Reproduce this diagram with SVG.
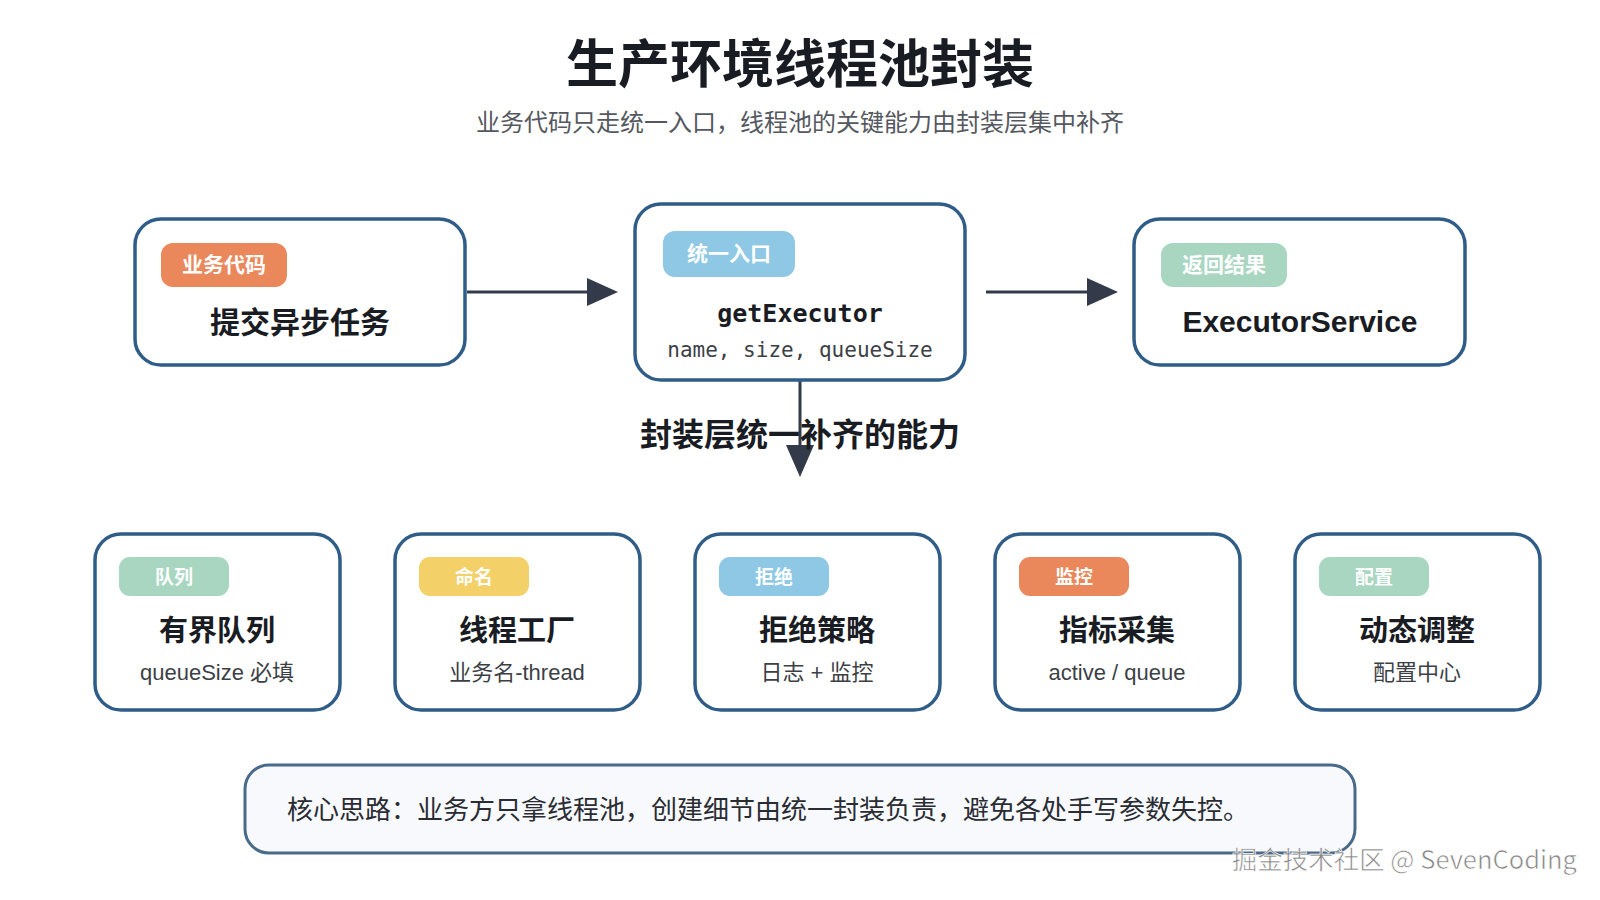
<svg xmlns="http://www.w3.org/2000/svg" width="1600" height="900" viewBox="0 0 1600 900">
<defs>
<style>
.box{fill:#ffffff;stroke:#2f5d87;stroke-width:3.5}
.cjk{font-family:"Noto Sans CJK SC","Liberation Sans",sans-serif}
.badge-t{font-family:"Noto Sans CJK SC",sans-serif;font-weight:700;fill:#ffffff;text-anchor:middle}
.main{font-family:"Noto Sans CJK SC","Liberation Sans",sans-serif;font-weight:700;fill:#1a1c24;text-anchor:middle}
.sub{font-family:"Liberation Sans","Noto Sans CJK SC",sans-serif;fill:#3d3f46;text-anchor:middle;font-size:22px}
.conn{stroke:#333b4a;stroke-width:3;fill:none}
</style>
</defs>
<rect width="1600" height="900" fill="#ffffff"/>

<text x="800" y="83" class="main" font-size="52">生产环境线程池封装</text>
<text x="800" y="131" class="cjk" font-size="24" fill="#555860" text-anchor="middle">业务代码只走统一入口，线程池的关键能力由封装层集中补齐</text>

<g id="connectors">
<line x1="467" y1="292" x2="587" y2="292" class="conn"/>
<path d="M587,278 L618,292 L587,306 Z" fill="#333b4a"/>
<line x1="986" y1="292" x2="1087" y2="292" class="conn"/>
<path d="M1087,278 L1118,292 L1087,306 Z" fill="#333b4a"/>
<line x1="800" y1="381" x2="800" y2="446" class="conn"/>
<path d="M786,445 L814,445 L800,477 Z" fill="#333b4a"/>
</g>

<g id="node-submit">
<rect x="135" y="219" width="330" height="146" rx="26" class="box"/>
<rect x="161" y="243" width="126" height="44" rx="12" fill="#ea875b"/>
<text x="224" y="272" class="badge-t" font-size="21">业务代码</text>
<text x="300" y="333" class="main" font-size="30">提交异步任务</text>
</g>

<g id="node-entry">
<rect x="635" y="204" width="330" height="176" rx="26" class="box"/>
<rect x="663" y="231" width="132" height="46" rx="12" fill="#8ec8e4"/>
<text x="729" y="261" class="badge-t" font-size="21">统一入口</text>
<text x="800" y="322" font-family="'DejaVu Sans Mono','Liberation Mono',monospace" font-weight="700" font-size="25" fill="#1a1c24" text-anchor="middle">getExecutor</text>
<text x="800" y="357" font-family="'DejaVu Sans Mono','Liberation Mono',monospace" font-size="21" fill="#3d3f46" text-anchor="middle">name, size, queueSize</text>
</g>

<g id="node-result">
<rect x="1134" y="219" width="331" height="146" rx="26" class="box"/>
<rect x="1161" y="243" width="126" height="44" rx="12" fill="#a8d6c1"/>
<text x="1224" y="272" class="badge-t" font-size="21">返回结果</text>
<text x="1300" y="332" font-family="'Liberation Sans',sans-serif" font-weight="700" font-size="30" fill="#1a1c24" text-anchor="middle">ExecutorService</text>
</g>

<text x="800" y="446" class="main" font-size="32">封装层统一补齐的能力</text>

<g id="node-queue">
<rect x="95" y="534" width="245" height="176" rx="26" class="box"/>
<rect x="119" y="557" width="110" height="39" rx="11" fill="#a8d6c1"/>
<text x="174" y="584" class="badge-t" font-size="19">队列</text>
<text x="217" y="641" class="main" font-size="29">有界队列</text>
<text x="217" y="680" class="sub">queueSize 必填</text>
</g>

<g id="node-factory">
<rect x="395" y="534" width="245" height="176" rx="26" class="box"/>
<rect x="419" y="557" width="110" height="39" rx="11" fill="#f3d068"/>
<text x="474" y="584" class="badge-t" font-size="19">命名</text>
<text x="517" y="641" class="main" font-size="29">线程工厂</text>
<text x="517" y="680" class="sub">业务名-thread</text>
</g>

<g id="node-reject">
<rect x="695" y="534" width="245" height="176" rx="26" class="box"/>
<rect x="719" y="557" width="110" height="39" rx="11" fill="#8ec8e4"/>
<text x="774" y="584" class="badge-t" font-size="19">拒绝</text>
<text x="817" y="641" class="main" font-size="29">拒绝策略</text>
<text x="817" y="680" class="sub">日志 + 监控</text>
</g>

<g id="node-metrics">
<rect x="995" y="534" width="245" height="176" rx="26" class="box"/>
<rect x="1019" y="557" width="110" height="39" rx="11" fill="#ea875b"/>
<text x="1074" y="584" class="badge-t" font-size="19">监控</text>
<text x="1117" y="641" class="main" font-size="29">指标采集</text>
<text x="1117" y="680" class="sub">active / queue</text>
</g>

<g id="node-config">
<rect x="1295" y="534" width="245" height="176" rx="26" class="box"/>
<rect x="1319" y="557" width="110" height="39" rx="11" fill="#a8d6c1"/>
<text x="1374" y="584" class="badge-t" font-size="19">配置</text>
<text x="1417" y="641" class="main" font-size="29">动态调整</text>
<text x="1417" y="680" class="sub">配置中心</text>
</g>

<g id="note">
<rect x="245" y="765" width="1110" height="88" rx="24" fill="#f7f9fc" stroke="#4a6a8a" stroke-width="3"/>
<text x="287" y="819" class="cjk" font-size="26" fill="#2a2c33">核心思路：业务方只拿线程池，创建细节由统一封装负责，避免各处手写参数失控。</text>
</g>

<text x="1577" y="869" font-family="'Noto Sans CJK SC','Liberation Sans',sans-serif" font-size="25.5" fill="#858585" stroke="#ffffff" stroke-width="0.6" text-anchor="end">掘金技术社区 @ SevenCoding</text>
</svg>
